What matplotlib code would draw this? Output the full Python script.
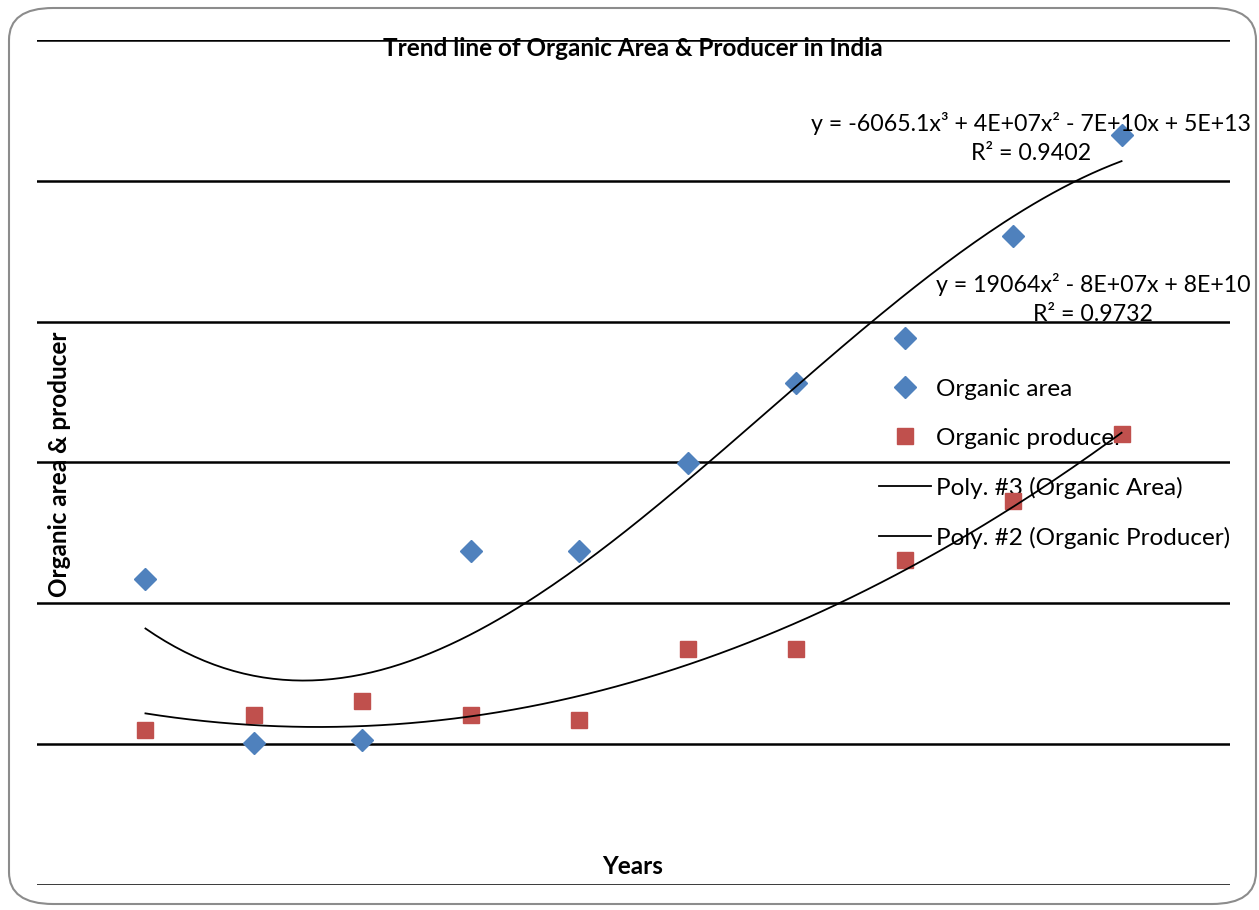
import numpy as np
import matplotlib
matplotlib.use("Agg")
import matplotlib.pyplot as plt
from matplotlib.patches import FancyBboxPatch

plt.rcParams['font.family'] = ['Lato', 'DejaVu Sans']

# yearly figures ('000 units)
years = [2002, 2003, 2004, 2005, 2006, 2007, 2008, 2009, 2010, 2011]
organic_area = [235, 1, 6, 275, 274, 399, 513, 577, 722, 865]
organic_producer = [20, 41, 61, 41, 35, 135, 135, 261, 346, 441]

area_eq = "y = -6065.1x³ + 4E+07x² - 7E+10x + 5E+13\nR² = 0.9402"
prod_eq = "y = 19064x² - 8E+07x + 8E+10\nR² = 0.9732"

blue = '#4F81BD'
red = '#C0504D'

fig = plt.figure(figsize=(12.59, 9.10), dpi=100)
ax = fig.add_axes([37 / 1259, 25 / 910, 1193 / 1259, 845 / 910])

# rounded chart border
border = FancyBboxPatch((9 / 1259, 6 / 910), 1247 / 1259, 896 / 910,
                        boxstyle="round,pad=0,rounding_size=0.035",
                        transform=fig.transFigure, facecolor='none',
                        edgecolor='#8c8c8c', linewidth=1.5)
fig.patches.append(border)

ax.set_xlim(years[0] - 1, years[-1] + 1)
ax.set_ylim(-200, 1000)
for y in np.arange(-200, 1001, 200):
    ax.axhline(y, color='black', linewidth=1.8, zorder=1)
for s in ax.spines.values():
    s.set_visible(False)
ax.set_xticks([])
ax.set_yticks([])

ax.plot(years, organic_area, linestyle='none', marker='D', markersize=11,
        color=blue, label='Organic area', zorder=3)
ax.plot(years, organic_producer, linestyle='none', marker='s', markersize=12,
        color=red, label='Organic producer', zorder=3)

# polynomial trend lines
xs = np.linspace(years[0], years[-1], 200)
xc = np.array(years, dtype=float) - years[0]
area_fit = np.polyfit(xc, organic_area, 3)
prod_fit = np.polyfit(xc, organic_producer, 2)
ax.plot(xs, np.polyval(area_fit, xs - years[0]), color='black', linewidth=1.3,
        label='Poly. #3 (Organic Area)', zorder=4)
ax.plot(xs, np.polyval(prod_fit, xs - years[0]), color='black', linewidth=1.3,
        label='Poly. #2 (Organic Producer)', zorder=4)

leg = ax.legend(loc='upper left', bbox_to_anchor=(820 / 1193, 528 / 845),
                frameon=False, fontsize=17.5, handlelength=2.15,
                labelspacing=1.15, handletextpad=0.22)
leg.set_zorder(2)

fig.text(1031 / 1259, 1 - 138 / 910, area_eq, ha='center', va='center',
         multialignment='center', fontsize=16.7, linespacing=1.5)
fig.text(1093 / 1259, 1 - 299 / 910, prod_eq, ha='center', va='center',
         multialignment='center', fontsize=16.7, linespacing=1.5)

fig.text(633 / 1259, 1 - 49 / 910, 'Trend line of Organic Area & Producer in India',
         ha='center', va='center', fontsize=17.5, fontweight='bold')
fig.text(633 / 1259, 1 - 866 / 910, 'Years', ha='center', va='center',
         fontsize=17.5, fontweight='bold')
fig.text(60 / 1259, 1 - 464 / 910, 'Organic area & producer', ha='center',
         va='center', rotation=90, fontsize=17.5, fontweight='bold')

fig.savefig('out.png', dpi=100)
